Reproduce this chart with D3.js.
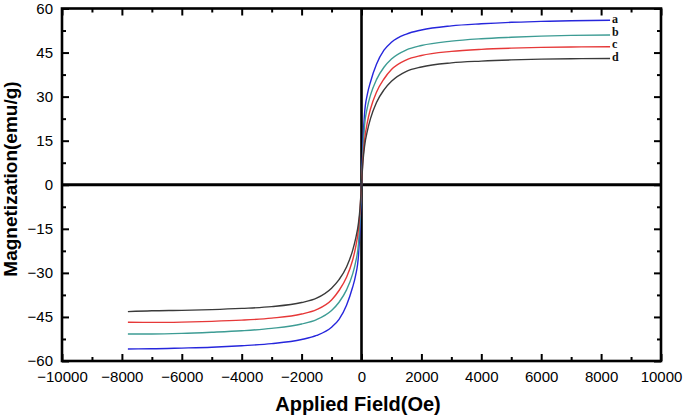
<!DOCTYPE html>
<html>
<head>
<meta charset="utf-8">
<script src="https://cdn.jsdelivr.net/npm/d3@7"></script>
<style>
  html, body { margin: 0; padding: 0; background: #fff; }
  svg { display: block; }
</style>
</head>
<body>
<svg id="chart" width="685" height="417"></svg>
<script>
// ---- Data ----
const field = [-7800,-7000,-6000,-5000,-4000,-3000,-2000,-1500,-1000,-750,-500,-300,-200,-100,-50,0,50,100,200,300,500,750,1000,1500,2000,3000,4000,5000,6000,7000,8300];
const seriesA = [-55.9,-55.85,-55.6,-55.3,-54.8,-54.1,-52.7,-51.3,-48.5,-45.8,-41,-35,-31,-24,-15,0,15,24,31,35,41,45.8,48.5,51.3,52.7,54.1,54.8,55.3,55.6,55.85,56.0];
const seriesB = [-50.8,-50.8,-50.6,-50.2,-49.7,-48.9,-47.4,-45.9,-42.8,-40,-35.8,-30.5,-26.5,-20,-12,0,12,20,26.5,30.5,35.8,40,42.8,45.9,47.4,48.9,49.7,50.2,50.6,50.85,51.0];
const seriesC = [-46.8,-46.85,-46.75,-46.5,-46.1,-45.4,-44,-42.5,-39.2,-36,-31.5,-25.8,-21.5,-15,-9,0,9,15,21.5,25.8,31.5,36,39.2,42.5,44,45.4,46.1,46.5,46.75,46.9,47.0];
const seriesD = [-43.2,-42.9,-42.75,-42.5,-42.1,-41.5,-40.1,-38.6,-35.2,-32.3,-28,-22.5,-18.5,-13,-8,0,8,13,18.5,22.5,28,32.3,35.2,38.6,40.1,41.5,42.1,42.5,42.75,42.9,43.0];
const seriesNames = ["a","b","c","d"];
const seriesColors = ["#2626dc","#3d9c94","#e63838","#3a3a3a"];
const xTicks = [-10000,-8000,-6000,-4000,-2000,0,2000,4000,6000,8000,10000];
const xMinorTicks = [-9000,-7000,-5000,-3000,-1000,1000,3000,5000,7000,9000];
const yTicks = [-60,-45,-30,-15,0,15,30,45,60];
const yMinorTicks = [-52.5,-37.5,-22.5,-7.5,7.5,22.5,37.5,52.5];
const xTitle = "Applied Field(Oe)";
const yTitle = "Magnetization(emu/g)";

// ---- Layout ----
const svg = d3.select("#chart");
const L = 62, R = 661, T = 8.5, B = 361;
const x = d3.scaleLinear().domain([-10000, 10000]).range([L, R]);
const y = d3.scaleLinear().domain([-60, 60]).range([B, T]);
const sansFont = "'Liberation Sans', Arial, sans-serif";

svg.append("rect").attr("width", 685).attr("height", 417).attr("fill", "#fff");

// zero lines
svg.append("line").attr("x1", x(-10000)).attr("x2", x(10000)).attr("y1", y(0)).attr("y2", y(0))
  .attr("stroke", "#000").attr("stroke-width", 2.8);
svg.append("line").attr("x1", x(0)).attr("x2", x(0)).attr("y1", y(60)).attr("y2", y(-60))
  .attr("stroke", "#000").attr("stroke-width", 2.6);

// curves
const all = [seriesA, seriesB, seriesC, seriesD];
const line = d3.line().x(d => x(d[0])).y(d => y(d[1])).curve(d3.curveMonotoneX);
all.forEach((s, i) => {
  const pts = field.map((f, k) => [f, s[k]]);
  svg.append("path").attr("d", line(pts)).attr("fill", "none")
    .attr("stroke", seriesColors[i]).attr("stroke-width", 1.4);
});

// series labels
const labelYs = [23, 35.5, 48, 60.5];
seriesNames.forEach((n, i) => {
  svg.append("text").attr("x", x(field[field.length - 1]) + 2).attr("y", labelYs[i])
    .attr("font-family", "'Liberation Serif', 'Times New Roman', serif")
    .attr("font-weight", "bold").attr("font-size", 12).attr("fill", "#111").text(n);
});

// axes
function styleAxis(g) {
  g.select(".domain").remove();
  g.selectAll(".tick line").attr("stroke", "#000").attr("stroke-width", 2);
  g.selectAll(".tick text").attr("font-family", sansFont).attr("font-size", 15).attr("fill", "#000");
}
svg.append("g").attr("transform", `translate(0,${B})`)
  .call(d3.axisBottom(x).tickValues(xTicks).tickSize(-7).tickPadding(10).tickFormat(d3.format("d")))
  .call(styleAxis);
svg.append("g").attr("transform", `translate(0,${B})`)
  .call(d3.axisBottom(x).tickValues(xMinorTicks).tickSize(-4).tickFormat(""))
  .call(styleAxis);
svg.append("g").attr("transform", `translate(0,${T})`)
  .call(d3.axisTop(x).tickValues(xTicks).tickSize(-7).tickFormat(""))
  .call(styleAxis);
svg.append("g").attr("transform", `translate(0,${T})`)
  .call(d3.axisTop(x).tickValues(xMinorTicks).tickSize(-4).tickFormat(""))
  .call(styleAxis);
svg.append("g").attr("transform", `translate(${L},0)`)
  .call(d3.axisLeft(y).tickValues(yTicks).tickSize(-7).tickPadding(9).tickFormat(d3.format("d")))
  .call(styleAxis);
svg.append("g").attr("transform", `translate(${L},0)`)
  .call(d3.axisLeft(y).tickValues(yMinorTicks).tickSize(-4).tickFormat(""))
  .call(styleAxis);
svg.append("g").attr("transform", `translate(${R},0)`)
  .call(d3.axisRight(y).tickValues(yTicks).tickSize(-7).tickFormat(""))
  .call(styleAxis);
svg.append("g").attr("transform", `translate(${R},0)`)
  .call(d3.axisRight(y).tickValues(yMinorTicks).tickSize(-4).tickFormat(""))
  .call(styleAxis);

// frame
svg.append("rect").attr("x", L).attr("y", T).attr("width", R - L).attr("height", B - T)
  .attr("fill", "none").attr("stroke", "#000").attr("stroke-width", 2.6);

// titles
svg.append("text").attr("x", 358).attr("y", 411).attr("text-anchor", "middle")
  .attr("font-family", sansFont).attr("font-weight", "bold").attr("font-size", 20).text(xTitle);
svg.append("text").attr("transform", "translate(17,179) rotate(-90)").attr("text-anchor", "middle")
  .attr("font-family", sansFont).attr("font-weight", "bold").attr("font-size", 19).text(yTitle);
</script>
</body>
</html>
